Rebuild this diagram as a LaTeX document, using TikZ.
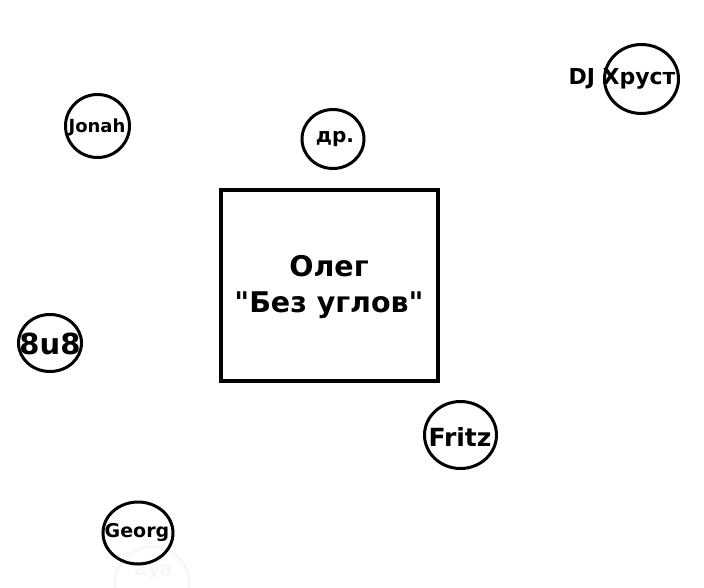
\documentclass[tikz,border=0pt]{standalone}
\usepackage{fontspec}
\setmainfont{DejaVu Sans}[Ligatures=TeXOff]
\usetikzlibrary{shapes.geometric}

\tikzset{
  member/.style={ellipse,draw,line width=3pt,inner sep=0pt},
  tag/.style={font=\bfseries\fontsize{#1}{#1}\selectfont,inner sep=0pt},
  ghost/.style={ellipse,draw=black!3,line width=3pt,inner sep=0pt}
}

\begin{document}
\begin{tikzpicture}[x=1pt,y=-1pt]
  \useasboundingbox (0,0) rectangle (704,587);
  % faint leftover circle
  \node[ghost,minimum width=74pt,minimum height=70pt] (zya) at (152,582) {};
  \node[tag=19,text=black!3] (zyat) at (153,571) {Zya};
  % band leader
  \node[draw,line width=4pt,minimum width=217pt,minimum height=191pt,
    inner sep=0pt] (oleg) at (329,285.5) {};
  \node[tag=28.5] (olegt) at (329,266) {Олег};
  \node[tag=28.5] (olegb) at (329,305) {"Без углов"};
  % members round him
  \node[member,minimum width=64pt,minimum height=63pt] (jonah) at (97.5,126) {};
  \node[tag=18] (jonaht) at (97,127) {Jonah};
  \node[member,minimum width=62pt,minimum height=59pt] (dr) at (333,139) {};
  \node[tag=20] (drt) at (335,139) {др.};
  \node[member,minimum width=74pt,minimum height=69pt] (dj) at (641.5,79) {};
  \node[tag=22] (djt) at (622,79) {DJ Хруст};
  \node[member,minimum width=63pt,minimum height=57pt] (eight) at (50,343) {};
  \node[tag=29] (eightt) at (50,344) {8u8};
  \node[member,minimum width=72pt,minimum height=67pt] (fritz) at (460.5,435) {};
  \node[tag=25] (fritzt) at (460,437) {Fritz};
  \node[member,minimum width=70pt,minimum height=62pt] (georg) at (138,533) {};
  \node[tag=19] (georgt) at (137,532) {Georg};
\end{tikzpicture}
\end{document}
